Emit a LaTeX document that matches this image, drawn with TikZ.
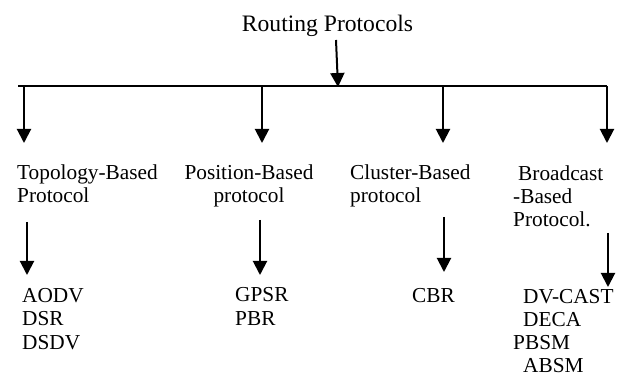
\documentclass[tikz,border=0pt]{standalone}
\usepackage{fontspec}
\setmainfont{Liberation Serif}
\usetikzlibrary{arrows.meta}
\tikzset{
  fleche/.style={line width=2pt,-{Triangle[width=14pt,length=14pt]}},
  texte/.style={inner sep=0pt,anchor=base west,align=left,font=\fontsize{21.3}{23.5}\selectfont}
}
\begin{document}
\begin{tikzpicture}[x=1pt,y=-1pt]
            \useasboundingbox (0,0) rectangle (622,377);
            \node (racine) [texte,anchor=base,font=\fontsize{23.6}{26}\selectfont] at (327.5,32) {Routing Protocols};
            \draw [line width=1.6pt] (18,86) coordinate (g) -- (607,86) coordinate (d);
            \coordinate (milieu) at (338,87);
            \draw [fleche] (336,40) -- (milieu);
            % les quatre familles
            \foreach \x/\n in {24/a,262/b,443/c,607/e}{
              \coordinate (h\n) at (\x,86);
              \coordinate (f\n) at (\x,143);
              \draw [fleche] (h\n) -- (f\n);
            }
            %la base du noeud est celle de la derniere ligne
            \node (topo) [texte] at (17,203) {Topology-Based\\Protocol};
            \node (posi) [texte,anchor=base,align=center] at (249,203) {Position-Based\\protocol};
            \node (clus) [texte] at (350,203) {Cluster-Based\\protocol};
            \node (broad) [texte] at (513,227) {\hspace*{5pt}Broadcast\\-Based\\Protocol.};
            % second niveau
            \foreach \x/\y/\z/\n in {27/222/275/a,260/220/275/b,444/217/272/c,608/233/287/e}
              \draw [fleche] (\x,\y) coordinate (s\n) -- (\x,\z) coordinate (t\n);
            \node (aodv) [texte] at (22,349) {AODV\\DSR\\DSDV};
            \node (gpsr) [texte] at (235,325) {GPSR\\PBR};
            \node (cbr) [texte] at (412,302) {CBR};
            \node (dvcast) [texte,font=\fontsize{21.3}{23}\selectfont] at (513,372) {\hspace*{10pt}DV-CAST\\\hspace*{10pt}DECA\\PBSM\\\hspace*{10pt}ABSM};
\end{tikzpicture}
\end{document}
